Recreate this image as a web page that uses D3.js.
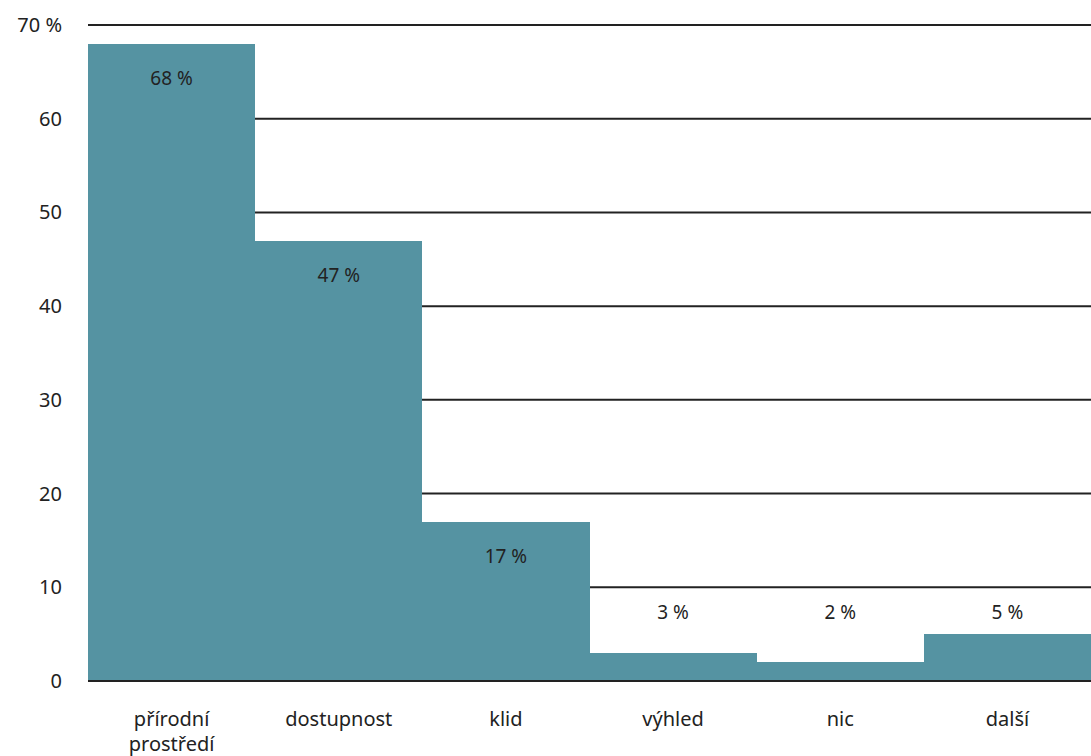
<!DOCTYPE html>
<meta charset="utf-8">
<style>
body { margin: 0; background: #fff; }
text { font-family: "Noto Sans", sans-serif; fill: #222; }
rect { shape-rendering: crispEdges; }
</style>
<body>
<div class="chart"></div>
</body>
<script src="https://cdn.jsdelivr.net/npm/d3@7"></script>
<script>

var categories = ["přírodní prostředí", "dostupnost", "klid", "výhled", "nic", "další"],
    values = [68, 47, 17, 3, 2, 5],
    ticks = [0, 10, 20, 30, 40, 50, 60, 70];

var w = 1091,
    h = 756,
    mLeft = 88,
    mRight = 1091,
    mTop = 25,
    mBottom = 681;

var svg = d3.select(".chart").append("svg")
    .attr("width", w)
    .attr("height", h);

var x = d3.scaleBand()
    .domain(categories)
    .range([mLeft, mRight]);

var y = d3.scaleLinear()
    .domain([0, 70])
    .range([mBottom, mTop]);

// grid lines
svg.selectAll("line.grid")
    .data(ticks.filter(function(d) { return d > 0; }))
  .enter().append("line")
    .attr("class", "grid")
    .attr("x1", mLeft)
    .attr("x2", mRight)
    .attr("y1", function(d) { return y(d); })
    .attr("y2", function(d) { return y(d); })
    .style("stroke", "#222")
    .style("stroke-width", 2);

// tick labels
svg.selectAll("text.tick")
    .data(ticks)
  .enter().append("text")
    .attr("class", "tick")
    .attr("x", 62)
    .attr("y", function(d) { return y(d); })
    .attr("dy", "0.35em")
    .attr("text-anchor", "end")
    .style("font-size", "20px")
    .text(function(d) { return d === 70 ? "70 %" : d; });

// bars (rounded edges so neighbours meet without seams)
svg.selectAll("rect")
    .data(values)
  .enter().append("rect")
    .attr("x", function(d, i) { return Math.round(x(categories[i])); })
    .attr("width", function(d, i) {
      return Math.round(x(categories[i]) + x.bandwidth()) - Math.round(x(categories[i]));
    })
    .attr("y", function(d) { return y(d); })
    .attr("height", function(d) { return y(0) - y(d); })
    .style("fill", "#5593a2");

// baseline
svg.append("line")
    .attr("x1", mLeft)
    .attr("x2", mRight)
    .attr("y1", y(0))
    .attr("y2", y(0))
    .style("stroke", "#222")
    .style("stroke-width", 2);

// value labels
svg.selectAll("text.value")
    .data(values)
  .enter().append("text")
    .attr("class", "value")
    .attr("x", function(d, i) { return x(categories[i]) + x.bandwidth() / 2; })
    .attr("y", function(d) { return d > 10 ? y(d) + 35 : y(0) - 69; })
    .attr("dy", "0.35em")
    .attr("text-anchor", "middle")
    .style("font-size", "19px")
    .text(function(d) { return d + " %"; });

// category labels
var cat = svg.selectAll("text.cat")
    .data(categories)
  .enter().append("text")
    .attr("class", "cat")
    .attr("x", function(d) { return x(d) + x.bandwidth() / 2; })
    .attr("y", 726)
    .attr("text-anchor", "middle")
    .style("font-size", "20px");

cat.each(function(d) {
  var words = d === "přírodní prostředí" ? ["přírodní", "prostředí"] : [d];
  var t = d3.select(this);
  words.forEach(function(wd, i) {
    t.append("tspan")
      .attr("x", x(d) + x.bandwidth() / 2)
      .attr("dy", i === 0 ? 0 : 25)
      .text(wd);
  });
});

</script>
